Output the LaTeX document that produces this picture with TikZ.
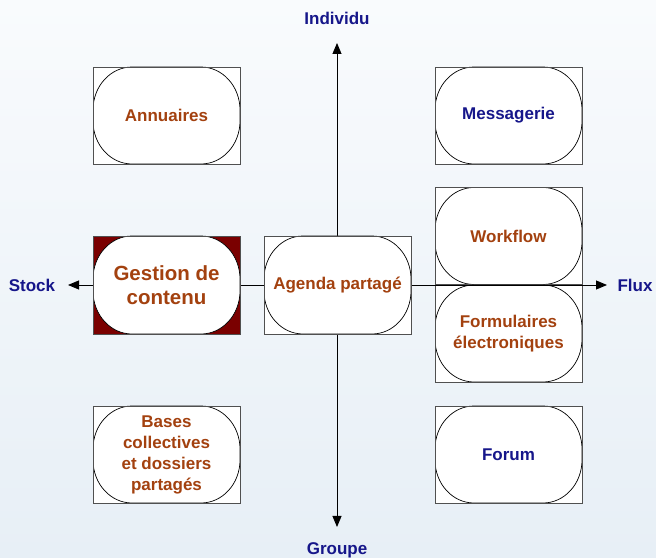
\documentclass[tikz,border=0pt]{standalone}
\usepackage{fontspec}
\setmainfont{Liberation Sans}
\usetikzlibrary{calc,arrows.meta}
\definecolor{bgtop}{RGB}{249,251,253}
\definecolor{bgbot}{RGB}{231,239,246}
\definecolor{brn}{RGB}{163,65,15}
\definecolor{navy}{RGB}{22,22,138}
\definecolor{darkred}{RGB}{122,0,0}
\definecolor{boxgray}{RGB}{80,80,80}
\tikzset{
  rshape/.style={draw=black, line width=0.7pt, fill=white},
  boxbase/.style={rectangle, draw=boxgray, line width=0.9pt, fill=white,
    minimum width=147pt, minimum height=97pt, inner sep=0pt, align=center,
    text=brn, font=\bfseries\fontsize{17}{21}\selectfont,
    path picture={
      \path[rshape]
        ($(path picture bounding box.north west)+(39,0)$) --
        ($(path picture bounding box.north east)+(-39,0)$)
        arc[start angle=90,end angle=0,x radius=39,y radius=43] --
        ($(path picture bounding box.south east)+(0,43)$)
        arc[start angle=0,end angle=-90,x radius=39,y radius=43] --
        ($(path picture bounding box.south west)+(39,0)$)
        arc[start angle=270,end angle=180,x radius=39,y radius=43] --
        ($(path picture bounding box.north west)+(0,-43)$)
        arc[start angle=180,end angle=90,x radius=39,y radius=43] -- cycle;
    }},
  bluetext/.style={text=navy},
  axislabel/.style={text=navy, font=\bfseries\fontsize{17}{19}\selectfont, inner sep=0pt},
  axisline/.style={draw=black, line width=0.9pt, -{Triangle[length=11pt,width=9pt]}}
}
\begin{document}
\begin{tikzpicture}[x=1pt,y=1pt]
\useasboundingbox (0,0) rectangle (656,557);
\shade[top color=bgtop, bottom color=bgbot] (0,0) rectangle (656,557);

% boxes crossed by the horizontal axis (axis visible over them)
\node[boxbase] (workflow) at (508.5,321) {Workflow};
\node[boxbase] (formulaires) at (508.5,223.5) {Formulaires\\électroniques};

% axis labels
\node[axislabel] (individu) at (337,539) {Individu};
\node[axislabel] (groupe) at (337,7) {Groupe};
\node[axislabel] (stock) at (32,272) {Stock};
\node[axislabel] (flux) at (635,272) {Flux};

% axes
\coordinate (center) at (337,272);
\coordinate (top) at (337,514);
\coordinate (bottom) at (337,30);
\coordinate (left) at (68,272);
\coordinate (right) at (607,272);
\draw[axisline] (center) -- (top);
\draw[axisline] (center) -- (bottom);
\draw[axisline] (center) -- (left);
\draw[axisline] (center) -- (right);

% other boxes
\node[boxbase] (annuaires) at (166.5,441.5) {Annuaires};
\node[boxbase, bluetext] (messagerie) at (508.5,441.5) {Messagerie};
\node[boxbase, fill=darkred, minimum height=98pt, font=\bfseries\fontsize{20.5}{24}\selectfont] (gestion) at (166.5,272) {Gestion de\\contenu};
\node[boxbase, minimum height=98pt] (agenda) at (337.5,272) {Agenda partagé};
\node[boxbase] (bases) at (166.5,102.5) {Bases\\collectives\\et dossiers\\partagés};
\node[boxbase, bluetext] (forum) at (508.5,102.5) {Forum};
\end{tikzpicture}
\end{document}
